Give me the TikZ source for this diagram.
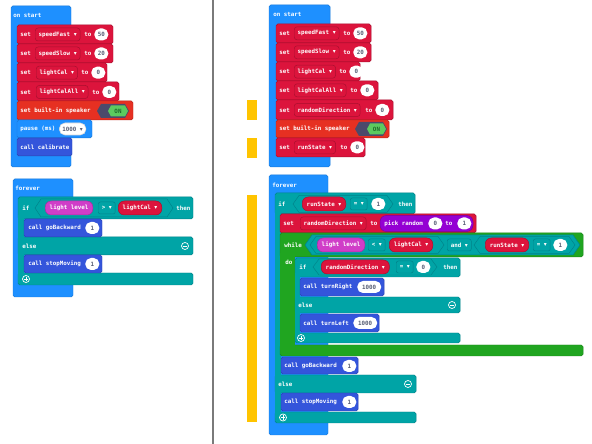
\documentclass[tikz,border=0pt]{standalone}
\usepackage{fontspec}
\setmonofont{DejaVu Sans Mono}
\newfontfamily\symfont{DejaVu Sans}
\usepackage{xcolor}
\definecolor{hatblue}{HTML}{1E90FF}
\definecolor{hatedge}{HTML}{1878D8}
\definecolor{varred}{HTML}{DC143C}
\definecolor{varedge}{HTML}{A80F2E}
\definecolor{spkred}{HTML}{E63022}
\definecolor{spkedge}{HTML}{B8261B}
\definecolor{togdark}{HTML}{4B4A6B}
\definecolor{togon}{HTML}{5CCB5F}
\definecolor{togtext}{HTML}{1E6B2A}
\definecolor{fnblue}{HTML}{3455DB}
\definecolor{fnedge}{HTML}{2A44AF}
\definecolor{logteal}{HTML}{00A4A6}
\definecolor{logedge}{HTML}{00838A}
\definecolor{loopgreen}{HTML}{20A520}
\definecolor{loopedge}{HTML}{1A861A}
\definecolor{inmag}{HTML}{D03DC8}
\definecolor{inedge}{HTML}{A82EA0}
\definecolor{mathpurp}{HTML}{9400D3}
\definecolor{mathedge}{HTML}{7500A8}
\definecolor{baryellow}{HTML}{FFC400}
\definecolor{numtext}{HTML}{575E75}
\definecolor{divgray}{HTML}{7A7A7A}
\usepackage{tikz}
\usetikzlibrary{positioning}
\newlength\pxu
\setlength\pxu{0.025cm}
\newcommand\mkfont{\fontsize{4.15}{5}\selectfont\ttfamily\bfseries}
\newcommand\dd{{\symfont ▾}}

\begin{document}
\begin{tikzpicture}[
    x=0.025cm, y=-0.025cm,
    lbl/.style={text=white, font=\mkfont, inner sep=0pt, anchor=west},
    blk/.style={rounded corners=1.2pt, line width=0.35pt},
    varblk/.style={blk, fill=varred, draw=varedge},
    fnblk/.style={blk, fill=fnblue, draw=fnedge},
    tealblk/.style={blk, fill=logteal, draw=logedge},
    loopblk/.style={blk, fill=loopgreen, draw=loopedge},
    fld/.style={fill=varred, draw=varedge, rounded corners=2pt, text=white, font=\mkfont, inner xsep=2.4pt, inner ysep=0pt, minimum height=13\pxu, anchor=west, line width=0.35pt},
    vpill/.style={fld, rounded corners=4.3pt, minimum height=14\pxu, inner xsep=3.2pt},
    inpill/.style={vpill, fill=inmag, draw=inedge},
    opbox/.style={fill=logteal, draw=logedge, rounded corners=1.5pt, text=white, font=\mkfont, inner xsep=2.5pt, inner ysep=0pt, minimum height=12\pxu, anchor=west, line width=0.35pt},
    oval/.style={fill=white, rounded corners=4pt, text=numtext, font=\mkfont, inner xsep=2.2pt, inner ysep=0pt, minimum height=12\pxu, minimum width=14\pxu, anchor=west},
    hexp/.style n args={5}{insert path={(#1,#3) -- ({#1+#5},{#3-#4/2}) -- ({#2-#5},{#3-#4/2}) -- (#2,#3) -- ({#2-#5},{#3+#4/2}) -- ({#1+#5},{#3+#4/2}) -- cycle}},
    icon/.style={circle, draw=white, line width=0.5pt, minimum size=7\pxu, inner sep=0pt},
]
\useasboundingbox (0,0) rectangle (592,444);
\fill[white] (0,0) rectangle (592,444);
\draw[divgray, line width=0.9pt] (213,0) -- (213,444);

% left: on start
\path[blk, fill=hatblue, draw=hatedge] (11,6) rectangle (71,167);
\node[lbl] (lstart) at (13,15.5) {on start};
\path[varblk] (17,25) rectangle (113,44);
\node[lbl] (lset1) at (20,34.5) {set};
\node[fld] (lvar1) at (35,34.5) {speedFast \dd};
\node[lbl] (lto1) at (84,34.5) {to};
\node[oval] (lnum1) at (94,34.5) {50};
\path[varblk] (17,44) rectangle (113,63);
\node[lbl] (lset2) at (20,53.5) {set};
\node[fld] (lvar2) at (35,53.5) {speedSlow \dd};
\node[lbl] (lto2) at (84,53.5) {to};
\node[oval] (lnum2) at (94,53.5) {20};
\path[varblk] (17,63) rectangle (107,82);
\node[lbl] (lset3) at (20,72.7) {set};
\node[fld] (lvar3) at (36,72.7) {lightCal \dd};
\node[lbl] (lto3) at (81,72.7) {to};
\node[oval] (lnum3) at (91,72.7) {0};
\path[varblk] (17,82) rectangle (119,101);
\node[lbl] (lset4) at (20,92) {set};
\node[fld] (lvar4) at (36,92) {lightCalAll \dd};
\node[lbl] (lto4) at (92,92) {to};
\node[oval] (lnum4) at (102,92) {0};
\path[blk, fill=spkred, draw=spkedge] (17,101) rectangle (133,120);
\node[lbl] (lspk) at (20,111) {set built-in speaker};
\fill[togdark] [hexp={97}{129}{111}{14}{4}];
\fill[togon] [hexp={108}{128}{111}{11}{3}];
\node[font=\mkfont, text=togtext, inner sep=0pt] (lon) at (118,111) {ON};
\path[blk, fill=hatblue, draw=hatedge] (17,120) rectangle (92,138);
\node[lbl] (lpause) at (20,129) {pause (ms)};
\node[oval, draw=black!15] (lms) at (59,129) {1000 \dd};
\path[fnblk] (17,138) rectangle (72,156);
\node[lbl] (lcal) at (20,147.3) {call calibrate};

% left: forever
\path[blk, fill=hatblue, draw=hatedge] (13,179) rectangle (73,297);
\node[lbl] (lfor) at (15,188) {forever};
\path[tealblk] (18,197) rectangle (193,219);
\path[tealblk] (18,237) rectangle (193,255);
\path[tealblk] (18,273) rectangle (193,285);
\fill[logteal] (18.2,215) rectangle (24,280);
\node[lbl] (lif) at (22,208) {if};
\filldraw[fill=logteal, draw=logedge, line width=0.35pt] [hexp={35}{173}{208}{18}{6}];
\node[inpill] (llight) at (45,208) {light level};
\node[opbox] (lgt) at (98,208) {> \dd};
\node[vpill] (lcalv) at (118,208) {lightCal \dd};
\node[lbl] (lthen) at (176,208) {then};
\path[fnblk] (24,219) rectangle (102,237);
\node[lbl] (lback) at (28,228) {call goBackward};
\node[oval] (lback1) at (85,228) {1};
\node[lbl] (lelse) at (22,246) {else};
\node[icon] (lminus) at (185,246) {};
\draw[white, line width=0.6pt] ([xshift=-1.6pt]lminus.center) -- ([xshift=1.6pt]lminus.center);
\path[fnblk] (24,255) rectangle (102,273);
\node[lbl] (lstop) at (28,264) {call stopMoving};
\node[oval] (lstop1) at (85,264) {1};
\node[icon] (lplus) at (26,279) {};
\draw[white, line width=0.6pt] ([xshift=-1.6pt]lplus.center) -- ([xshift=1.6pt]lplus.center)
  ([yshift=-1.6pt]lplus.center) -- ([yshift=1.6pt]lplus.center);

% right: markers
\fill[baryellow] (247,100) rectangle (257,120);
\fill[baryellow] (247,138) rectangle (257,158);
\fill[baryellow] (247,195) rectangle (257,422);

% right: on start
\path[blk, fill=hatblue, draw=hatedge] (269,5) rectangle (330,167);
\node[lbl] (rstart) at (273,14) {on start};
\path[varblk] (276,24) rectangle (371,43);
\node[lbl] (rset1) at (279,33.3) {set};
\node[fld] (rvar1) at (294,33.3) {speedFast \dd};
\node[lbl] (rto1) at (343,33.3) {to};
\node[oval] (rnum1) at (353,33.3) {50};
\path[varblk] (276,43) rectangle (371,62);
\node[lbl] (rset2) at (279,52.3) {set};
\node[fld] (rvar2) at (294,52.3) {speedSlow \dd};
\node[lbl] (rto2) at (343,52.3) {to};
\node[oval] (rnum2) at (353,52.3) {20};
\path[varblk] (276,62) rectangle (360,81);
\node[lbl] (rset3) at (279,71.7) {set};
\node[fld] (rvar3) at (294,71.7) {lightCal \dd};
\node[lbl] (rto3) at (339,71.7) {to};
\node[oval] (rnum3) at (349,71.7) {0};
\path[varblk] (276,81) rectangle (378,100);
\node[lbl] (rset4) at (279,90.3) {set};
\node[fld] (rvar4) at (294,90.3) {lightCalAll \dd};
\node[lbl] (rto4) at (350,90.3) {to};
\node[oval] (rnum4) at (360,90.3) {0};
\path[varblk] (276,100) rectangle (393,120);
\node[lbl] (rset5) at (279,110) {set};
\node[fld] (rvar5) at (294,110) {randomDirection \dd};
\node[lbl] (rto5) at (365,110) {to};
\node[oval] (rnum5) at (375,110) {0};
\path[blk, fill=spkred, draw=spkedge] (276,120) rectangle (389,138);
\node[lbl] (rspk) at (279,129) {set built-in speaker};
\fill[togdark] [hexp={355}{387}{129}{14}{4}];
\fill[togon] [hexp={367}{386}{129}{11}{3}];
\node[font=\mkfont, text=togtext, inner sep=0pt] (ron) at (376.5,129) {ON};
\path[varblk] (276,138) rectangle (365,157);
\node[lbl] (rset6) at (279,147.3) {set};
\node[fld] (rvar6) at (294,147.3) {runState \dd};
\node[lbl] (rto6) at (340,147.3) {to};
\node[oval] (rnum6) at (350,147.3) {0};

% right: forever
\path[blk, fill=hatblue, draw=hatedge] (269,175) rectangle (328,435);
\node[lbl] (rfor) at (272,185) {forever};
\path[tealblk] (275,193) rectangle (415,214);
\path[tealblk] (275,375) rectangle (416,393);
\path[tealblk] (275,412) rectangle (416,423);
\fill[logteal] (275.2,210) rectangle (281,418);
\node[lbl] (rif) at (278,204) {if};
\filldraw[fill=logteal, draw=logedge, line width=0.35pt] [hexp={293}{393}{204}{17}{6}];
\node[vpill] (rrun) at (302,204) {runState \dd};
\node[opbox] (req) at (350,204) {= \dd};
\node[oval] (rone) at (371,204) {1};
\node[lbl] (rthen) at (398,204) {then};

\path[varblk] (280,214) rectangle (476,233);
\node[lbl] (rset7) at (283,223.5) {set};
\node[fld] (rvar7) at (300,223.5) {randomDirection \dd};
\node[lbl] (rto7) at (370,223.5) {to};
\path[blk, fill=mathpurp, draw=mathedge, rounded corners=4.5pt] (380,215.5) rectangle (473,231.5);
\node[lbl] (rpick) at (384,223.5) {pick random};
\node[oval] (rlo) at (428,223.5) {0};
\node[lbl] (rto8) at (445,223.5) {to};
\node[oval] (rhi) at (457,223.5) {1};

\path[loopblk] (280,233) rectangle (583,257);
\path[loopblk] (280,345) rectangle (583,356);
\fill[loopgreen] (280.2,253) rectangle (295,350);
\node[lbl] (rwhile) at (284,245) {while};
\node[lbl] (rdo) at (285,262) {do};
\filldraw[fill=logteal, draw=logedge, line width=0.35pt] [hexp={305}{580}{245}{20}{7}];
\filldraw[fill=logteal, draw=logedge, line width=0.35pt] [hexp={310}{444}{245}{17}{6}];
\filldraw[fill=logteal, draw=logedge, line width=0.35pt] [hexp={474}{575}{245}{17}{6}];
\node[inpill] (rlight) at (317,245) {light level};
\node[opbox] (rlt) at (368,245) {< \dd};
\node[vpill] (rcalv) at (389,245) {lightCal \dd};
\node[opbox] (rand) at (447,245) {and \dd};
\node[vpill] (rrun2) at (485,245) {runState \dd};
\node[opbox] (req2) at (533,245) {= \dd};
\node[oval] (rone2) at (553,245) {1};

\path[tealblk] (295,258) rectangle (460,277);
\path[tealblk] (295,297) rectangle (460,313);
\path[tealblk] (295,333) rectangle (460,343);
\fill[logteal] (295.2,273) rectangle (300,338);
\node[lbl] (rif2) at (299,267) {if};
\filldraw[fill=logteal, draw=logedge, line width=0.35pt] [hexp={313}{437}{267}{16}{6}];
\node[vpill] (rdir) at (321,267) {randomDirection \dd};
\node[opbox] (req3) at (396,267) {= \dd};
\node[oval] (rzero) at (416,267) {0};
\node[lbl] (rthen2) at (443,267) {then};
\path[fnblk] (300,278) rectangle (384,296);
\node[lbl] (rright) at (303,287) {call turnRight};
\node[oval, inner xsep=3.5pt] (rright1) at (357,287) {1000};
\node[lbl] (relse2) at (298,305) {else};
\node[icon] (rminus2) at (452,305) {};
\draw[white, line width=0.6pt] ([xshift=-1.6pt]rminus2.center) -- ([xshift=1.6pt]rminus2.center);
\path[fnblk] (300,314) rectangle (379,332);
\node[lbl] (rleft) at (303,323) {call turnLeft};
\node[oval, inner xsep=3.5pt] (rleft1) at (353,323) {1000};
\node[icon] (rplus2) at (301,338) {};
\draw[white, line width=0.6pt] ([xshift=-1.6pt]rplus2.center) -- ([xshift=1.6pt]rplus2.center)
  ([yshift=-1.6pt]rplus2.center) -- ([yshift=1.6pt]rplus2.center);

\path[fnblk] (281,357) rectangle (358,374);
\node[lbl] (rback) at (284,366) {call goBackward};
\node[oval] (rback1) at (342,366) {1};
\node[lbl] (relse) at (278,384) {else};
\node[icon] (rminus) at (408,384) {};
\draw[white, line width=0.6pt] ([xshift=-1.6pt]rminus.center) -- ([xshift=1.6pt]rminus.center);
\path[fnblk] (281,393) rectangle (358,411);
\node[lbl] (rstop) at (284,402) {call stopMoving};
\node[oval] (rstop1) at (342,402) {1};
\node[icon] (rplus) at (283,417.5) {};
\draw[white, line width=0.6pt] ([xshift=-1.6pt]rplus.center) -- ([xshift=1.6pt]rplus.center)
  ([yshift=-1.6pt]rplus.center) -- ([yshift=1.6pt]rplus.center);
\end{tikzpicture}
\end{document}
